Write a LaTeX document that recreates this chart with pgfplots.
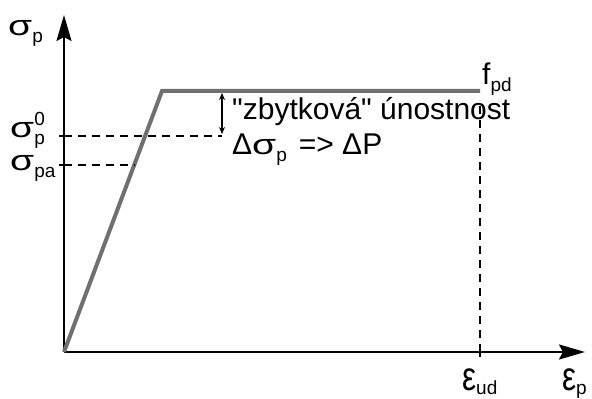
\documentclass[border=0pt]{standalone}
\usepackage{pgfplots}
\pgfplotsset{compat=1.18}
\usepackage{fontspec}
\setmainfont{Liberation Sans}[Ligatures=TeXOff]
\usetikzlibrary{arrows.meta}
\definecolor{curvegray}{RGB}{112,112,112}
\newcommand{\sub}[1]{\raisebox{-7pt}{\fontsize{19}{19}\selectfont #1}}
\newcommand{\sups}[1]{\raisebox{12pt}{\fontsize{19}{19}\selectfont #1}}
\newcommand{\sig}{\scalebox{1.3}[0.95]{σ}}
\newcommand{\eps}{\scalebox{1.05}[1.35]{ε}}

\begin{document}
\begin{tikzpicture}[every node/.style={font=\fontsize{30}{34}\selectfont, inner sep=0pt}]
\useasboundingbox (-64pt,-47pt) rectangle (528pt,352pt);
\begin{axis}[
  x=1pt, y=1pt, anchor=origin, at={(0pt,0pt)},
  xmin=0, xmax=521, ymin=0, ymax=337,
  axis lines=left,
  axis line style={line width=2.2pt, -{Stealth[length=26pt,width=15pt,inset=4pt]}},
  xtick={416}, ytick={187,216},
  xticklabels={}, yticklabels={},
  major tick length=10pt, tick align=center,
  tick style={line width=1.5pt, black},
  clip=false,
]
% stress-strain diagram
\addplot[curvegray, line width=4pt, line join=miter] coordinates {(0,0) (98,261) (416,261)};
\addplot[black, line width=2.5pt, dash pattern=on 8pt off 6pt] coordinates {(0,216) (158,216)};
\addplot[black, line width=2.5pt, dash pattern=on 8pt off 6pt] coordinates {(0,187) (71,187)};
\addplot[black, line width=2.5pt, dash pattern=on 8pt off 6pt] coordinates {(416,0) (416,252)};
\addplot[black, line width=1.5pt, {Stealth[length=7pt,width=6pt]}-{Stealth[length=7pt,width=6pt]}] coordinates {(158,259) (158,218)};

\node[anchor=base west] at (axis cs:-56,316) {\sig\sub{p}};
\node[anchor=base west] at (axis cs:-54,214) {\sig\rlap{\sups{0}}\sub{p}};
\node[anchor=base west] at (axis cs:-54,181) {\sig\sub{pa}};
\node[anchor=base west] at (axis cs:418,267) {f\sub{pd}};
\node[anchor=base west] at (axis cs:168,232) {"zbytková" únostnost};
\node[anchor=base west] at (axis cs:168,197) {Δ\sig\sub{p}\hspace{12pt}=> ΔP};
\node[anchor=base west] at (axis cs:398,-38) {\eps\raisebox{-4pt}{\fontsize{19}{19}\selectfont ud}};
\node[anchor=base west] at (axis cs:498,-38) {\eps\raisebox{-4pt}{\fontsize{19}{19}\selectfont p}};
\end{axis}
\end{tikzpicture}
\end{document}
